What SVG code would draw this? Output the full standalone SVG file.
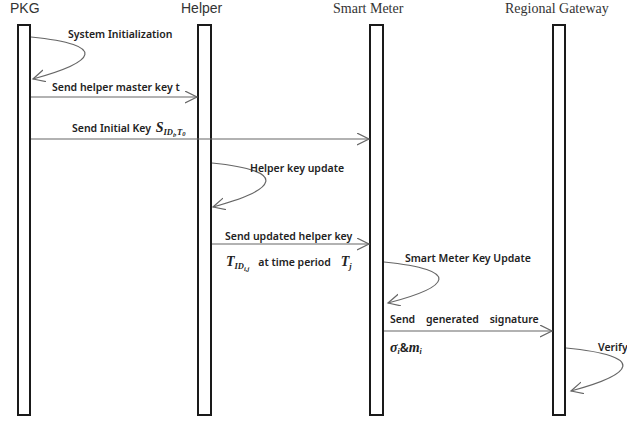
<svg xmlns="http://www.w3.org/2000/svg" width="627" height="422" viewBox="0 0 627 422">
<style>
.hdr{font-family:"Liberation Sans",Arial,sans-serif;font-size:14px;fill:#333}
.hdrs{font-family:"Liberation Serif","Times New Roman",serif;font-size:14px;fill:#333}
.bar{fill:#fff;stroke:#1a1a1a;stroke-width:2}
.lbl{font-family:"Noto Sans","Open Sans",sans-serif;font-size:10.5px;font-weight:600;fill:#222}
.math{font-family:"Liberation Serif","Times New Roman",serif;font-style:italic;font-weight:bold;fill:#222}
.msg{fill:none;stroke:#666;stroke-width:1.2;marker-end:url(#arr)}
</style>
<defs>
<marker id="arr" markerUnits="userSpaceOnUse" markerWidth="14" markerHeight="14" refX="12" refY="6" orient="auto">
<path d="M0,0 L12,6 L0,12" fill="none" stroke="#666" stroke-width="1.2"/>
</marker>
</defs>
<rect width="627" height="422" fill="#fff"/>
<g id="pkg">
<text class="hdr" x="10" y="13">PKG</text>
<rect class="bar" x="18" y="25" width="12" height="390"/>
</g>
<g id="helper">
<text class="hdr" x="181" y="13">Helper</text>
<rect class="bar" x="198" y="25" width="13" height="390"/>
</g>
<g id="smart-meter">
<text class="hdrs" x="333" y="13">Smart Meter</text>
<rect class="bar" x="370" y="25" width="13" height="390"/>
</g>
<g id="regional-gateway">
<text class="hdrs" x="505" y="13">Regional Gateway</text>
<rect class="bar" x="553" y="25" width="12" height="390"/>
</g>
<g id="connectors">
<path class="msg" d="M31,37 C110,45 95,62 33,79"/>
<text class="lbl" x="68" y="38">System Initialization</text>
<line class="msg" x1="31" y1="97" x2="197" y2="97"/>
<text class="lbl" x="52" y="91">Send helper master key t</text>
<line class="msg" x1="31" y1="139" x2="369" y2="139"/>
<text class="lbl" x="72" y="132">Send Initial Key <tspan class="math" font-size="14" dx="2">S</tspan><tspan class="math" font-size="8.5" dy="3">ID</tspan><tspan class="math" font-size="6.5" dy="2">i</tspan><tspan class="math" font-size="8.5" dy="-2">,T</tspan><tspan class="math" font-size="6.5" dy="1">0</tspan></text>
<path class="msg" d="M212,163 C291,171 276,190 213,207"/>
<text class="lbl" x="250" y="172">Helper key update</text>
<line class="msg" x1="212" y1="244" x2="369" y2="244"/>
<text class="lbl" x="225" y="240">Send updated helper key</text>
<text class="lbl" x="226" y="266"><tspan class="math" font-size="14">T</tspan><tspan class="math" font-size="8.5" dy="3">ID</tspan><tspan class="math" font-size="6.5" dy="2">i,j</tspan><tspan dy="-5" dx="9">at time period </tspan><tspan class="math" font-size="14" dx="7">T</tspan><tspan class="math" font-size="8.5" dy="3">j</tspan></text>
<path class="msg" d="M384,262 C463,270 450,287 388,303"/>
<text class="lbl" x="405" y="262">Smart Meter Key Update</text>
<line class="msg" x1="384" y1="331" x2="552" y2="331"/>
<text class="lbl" x="390" y="323" word-spacing="8">Send generated signature</text>
<text class="lbl" x="390" y="352"><tspan class="math" font-size="14">σ</tspan><tspan class="math" font-size="8" dy="2">i</tspan><tspan dy="-2" font-size="12">&amp;</tspan><tspan class="math" font-size="14">m</tspan><tspan class="math" font-size="8" dy="2">i</tspan></text>
<path class="msg" d="M566,348 C648,356 634,374 571,391"/>
<text class="lbl" x="598" y="351">Verify</text>
</g>
</svg>
